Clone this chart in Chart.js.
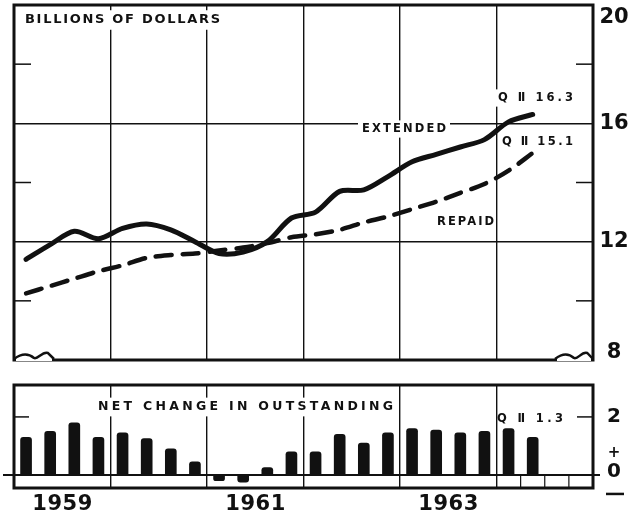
<!DOCTYPE html>
<html>
<head>
<meta charset="utf-8">
<script src="https://cdn.jsdelivr.net/npm/chart.js@4.4.0/dist/chart.umd.min.js"></script>
<style>
  html, body { margin: 0; padding: 0; background: #fff; }
  #wrap { position: relative; width: 632px; height: 514px; }
  canvas { position: absolute; left: 0; }
</style>
</head>
<body>
<div id="wrap">
  <canvas id="topChart" width="632" height="372" style="top:0"></canvas>
  <canvas id="netChart" width="632" height="139" style="top:375px"></canvas>
</div>
<script>
// quarterly, 1959 Q1 .. 1964 Q2 (billions of dollars)
const years = ['1959', '1960', '1961', '1962', '1963', '1964'];
const yearLabels = ['1959', '1961', '1963'];
const extended = [11.4, 11.9, 12.35, 12.1, 12.45, 12.6, 12.4, 12.0, 11.6, 11.65, 12.0, 12.8,
                  13.0, 13.7, 13.75, 14.2, 14.7, 14.95, 15.2, 15.45, 16.05, 16.3];
const repaid = [10.25, 10.5, 10.75, 11.0, 11.2, 11.45, 11.55, 11.6, 11.7, 11.8, 11.95, 12.15,
                12.25, 12.4, 12.65, 12.85, 13.1, 13.35, 13.65, 13.95, 14.4, 15.0];
const netChange = [1.3, 1.5, 1.8, 1.3, 1.45, 1.25, 0.9, 0.45, -0.2, -0.25, 0.25, 0.8,
                   0.8, 1.4, 1.1, 1.45, 1.6, 1.55, 1.45, 1.5, 1.6, 1.3];
const topTickLabels = ['20', '16', '12', '8'];
const topTickValues = [20, 16, 12, 8];
const lastLabels = ['Q \u2161 16.3', 'Q \u2161 15.1', 'Q \u2161 1.3'];

const ink = '#111';
const FONT = '"DejaVu Sans", sans-serif';

function line(ctx, x1, y1, x2, y2) {
    ctx.beginPath();
    ctx.moveTo(x1, y1);
    ctx.lineTo(x2, y2);
    ctx.stroke();
}

// draw text stretched to a given width with letter spacing
function spaced(ctx, text, x, y, width, size) {
    ctx.save();
    ctx.font = 'bold ' + size + 'px ' + FONT;
    ctx.letterSpacing = '0px';
    const w = ctx.measureText(text).width;
    const n = [...text].length;
    ctx.letterSpacing = (n > 1 ? (width - w) / (n - 1) : 0) + 'px';
    ctx.fillStyle = ink;
    ctx.textAlign = 'left';
    ctx.textBaseline = 'middle';
    ctx.fillText(text, x, y);
    ctx.restore();
}

function whiteBox(ctx, n) {
    ctx.save();
    ctx.fillStyle = '#fff';
    ctx.fillRect(n.x - 4, n.y - n.size * 0.75, n.w + 8, n.size * 1.5);
    ctx.restore();
}

function wave(ctx, x0, x1, yb) {
    const w = x1 - x0;
    ctx.save();
    ctx.fillStyle = '#fff';
    ctx.fillRect(x0 + 2, yb - 2, w - 4, 4);
    ctx.lineWidth = 2.5;
    ctx.beginPath();
    ctx.moveTo(x0, yb);
    ctx.bezierCurveTo(x0 + w * 0.2, yb - 6, x0 + w * 0.35, yb - 6, x0 + w * 0.5, yb - 1);
    ctx.bezierCurveTo(x0 + w * 0.6, yb + 1, x0 + w * 0.7, yb - 8, x0 + w * 0.85, yb - 6);
    ctx.lineTo(x1, yb);
    ctx.stroke();
    ctx.restore();
}

const topNotes = [
    { text: 'BILLIONS OF DOLLARS', x: 25, y: 20, w: 195, size: 13, box: true },
    { text: 'EXTENDED', x: 362, y: 129, w: 84, size: 11.5, box: true },
    { text: 'REPAID', x: 437, y: 222, w: 57, size: 11.5, box: false },
    { text: lastLabels[0], x: 498, y: 98, w: 75, size: 11.5, box: true },
    { text: lastLabels[1], x: 502, y: 142, w: 71, size: 11.5, box: true }
];

const topDecor = {
    id: 'topDecor',
    beforeDatasetsDraw(chart) {
        topNotes.forEach(n => { if (n.box) whiteBox(chart.ctx, n); });
    },
    afterDatasetsDraw(chart) {
        const { ctx, chartArea: a, scales: { y } } = chart;
        ctx.save();
        ctx.strokeStyle = ink;
        ctx.lineWidth = 1.5;
        [10, 14, 18].forEach(v => {
            const py = y.getPixelForValue(v);
            line(ctx, a.left, py, a.left + 17, py);
            line(ctx, a.right - 17, py, a.right, py);
        });
        ctx.lineWidth = 3;
        ctx.strokeRect(a.left, a.top, a.right - a.left, a.bottom - a.top);
        wave(ctx, a.left, a.left + 40, a.bottom - 1);
        wave(ctx, a.right - 38, a.right, a.bottom - 1);

        topNotes.forEach(n => spaced(ctx, n.text, n.x, n.y, n.w, n.size));

        ctx.fillStyle = ink;
        ctx.font = 'bold 21px ' + FONT;
        ctx.textAlign = 'center';
        ctx.textBaseline = 'middle';
        topTickLabels.forEach((t, i) => {
            let py = y.getPixelForValue(topTickValues[i]);
            if (i === 0) py += 13;
            if (i === topTickLabels.length - 1) py -= 7;
            ctx.fillText(t, 614, py);
        });
        ctx.restore();
    }
};

const netNotes = [
    { text: 'NET CHANGE IN OUTSTANDING', x: 98, y: 32, w: 295, size: 12.5, box: true },
    { text: lastLabels[2], x: 497, y: 44, w: 66, size: 11.5, box: false }
];

const netDecor = {
    id: 'netDecor',
    beforeDatasetsDraw(chart) {
        netNotes.forEach(n => { if (n.box) whiteBox(chart.ctx, n); });
    },
    afterDatasetsDraw(chart) {
        const { ctx, chartArea: a, scales: { x, y } } = chart;
        const y0 = y.getPixelForValue(0);
        const y2 = y.getPixelForValue(2);
        ctx.save();
        ctx.strokeStyle = ink;
        // quarter boxes in the last year
        ctx.lineWidth = 1.2;
        [21, 22, 23].forEach(q => {
            const px = x.getPixelForValue(q);
            line(ctx, px, y0, px, a.bottom);
        });
        ctx.lineWidth = 2;
        line(ctx, 3, y0, a.right + 7, y0);
        ctx.lineWidth = 1.5;
        line(ctx, a.left, y2, a.left + 15, y2);
        line(ctx, a.right - 16, y2, a.right, y2);
        ctx.lineWidth = 3;
        ctx.strokeRect(a.left, a.top, a.right - a.left, a.bottom - a.top);

        netNotes.forEach(n => spaced(ctx, n.text, n.x, n.y, n.w, n.size));

        yearLabels.forEach(t => {
            const cx = x.getPixelForValue(years.indexOf(t) * 4 + 2);
            spaced(ctx, t, cx - 30, 130, 60, 21);
        });

        ctx.fillStyle = ink;
        ctx.textAlign = 'center';
        ctx.textBaseline = 'middle';
        ctx.font = 'bold 20px ' + FONT;
        ctx.fillText('2', 614, y2);
        ctx.fillText('0', 614, y0 - 3);
        ctx.font = 'bold 15px ' + FONT;
        ctx.fillText('+', 614, y0 - 22);
        ctx.lineWidth = 2.5;
        line(ctx, 606, y0 + 19, 624, y0 + 19);
        ctx.restore();
    }
};

new Chart(document.getElementById('topChart'), {
    type: 'line',
    data: {
        datasets: [
            {
                label: 'Extended',
                data: extended.map((v, i) => ({ x: i + 0.5, y: v })),
                borderColor: ink, borderWidth: 5, tension: 0.3,
                pointRadius: 0, borderCapStyle: 'round', borderJoinStyle: 'round'
            },
            {
                label: 'Repaid',
                data: repaid.map((v, i) => ({ x: i + 0.5, y: v })),
                borderColor: ink, borderWidth: 4.5, tension: 0.3, borderDash: [16, 11],
                pointRadius: 0, borderCapStyle: 'round'
            }
        ]
    },
    options: {
        responsive: false,
        animation: false,
        layout: { padding: { left: 14, right: 39, top: 5, bottom: 12 } },
        plugins: { legend: { display: false }, tooltip: { enabled: false } },
        scales: {
            x: {
                type: 'linear', min: 0, max: 24,
                ticks: { display: false, stepSize: 4 },
                grid: { drawTicks: false, lineWidth: 1.4,
                        color: c => (c.tick.value > 0 && c.tick.value < 24) ? ink : 'transparent' },
                border: { display: false }
            },
            y: {
                position: 'right', min: 8, max: 20,
                ticks: { display: false, stepSize: 2 },
                grid: { drawTicks: false, lineWidth: 1.4,
                        color: c => (c.tick.value === 12 || c.tick.value === 16) ? ink : 'transparent' },
                border: { display: false }
            }
        }
    },
    plugins: [topDecor]
});

new Chart(document.getElementById('netChart'), {
    type: 'bar',
    data: {
        datasets: [{
            label: 'Net change in outstanding',
            data: netChange.map((v, i) => ({ x: i + 0.5, y: v })),
            backgroundColor: ink,
            barThickness: 11,
            borderRadius: 3,
            borderSkipped: 'start'
        }]
    },
    options: {
        responsive: false,
        animation: false,
        layout: { padding: { left: 14, right: 39, top: 10, bottom: 26 } },
        plugins: { legend: { display: false }, tooltip: { enabled: false } },
        scales: {
            x: {
                type: 'linear', min: 0, max: 24, offset: false,
                ticks: { display: false, stepSize: 4 },
                grid: { offset: false, drawTicks: false, lineWidth: 1.4,
                        color: c => (c.tick.value > 0 && c.tick.value < 24) ? ink : 'transparent' },
                border: { display: false }
            },
            y: {
                position: 'right', min: -0.45, max: 3.1,
                ticks: { display: false, stepSize: 1 },
                grid: { drawTicks: false, color: 'transparent' },
                border: { display: false }
            }
        }
    },
    plugins: [netDecor]
});
</script>
</body>
</html>
